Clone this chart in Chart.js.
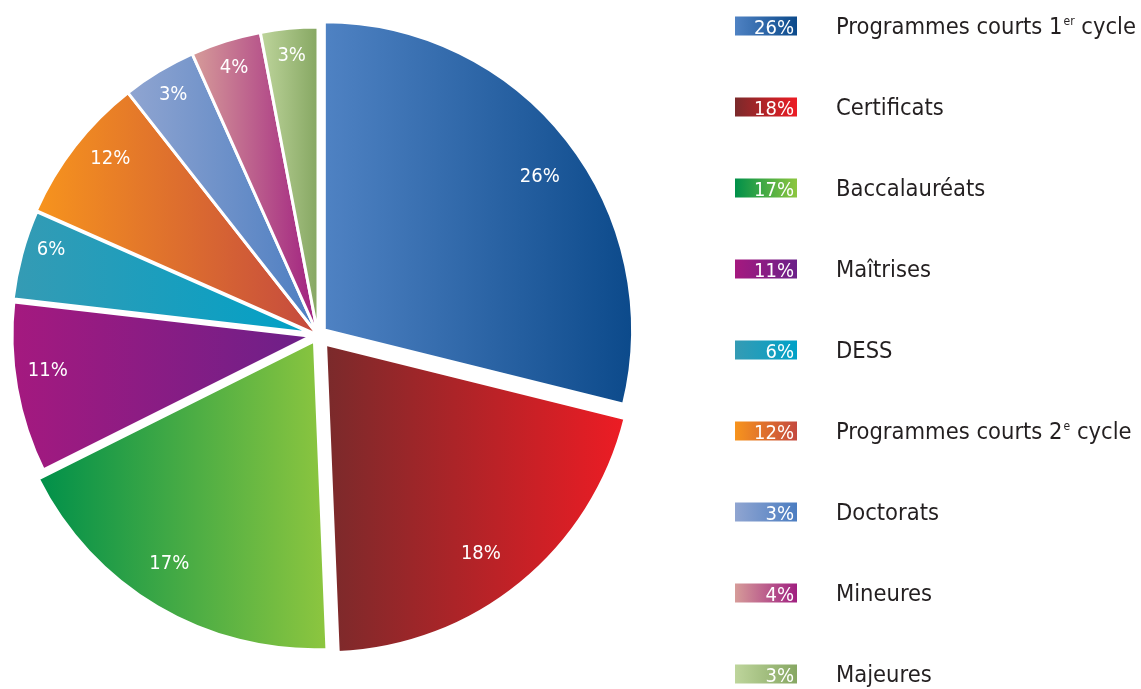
<!DOCTYPE html>
<html>
<head>
<meta charset="utf-8">
<script src="https://cdn.jsdelivr.net/npm/chart.js@4"></script>
<style>
  html, body { margin: 0; padding: 0; background: #fff; }
</style>
</head>
<body>
<canvas id="pie-chart" width="1141" height="689"></canvas>
<script>
// Program names, split so the ordinal can be drawn as a superscript.
const programNames = ['Programmes courts 1', 'Certificats', 'Baccalauréats', 'Maîtrises', 'DESS',
  'Programmes courts 2', 'Doctorats', 'Mineures', 'Majeures'];
const nameSup = ['er', '', '', '', '', 'e', '', '', ''];
const nameTail = [' cycle', '', '', '', '', ' cycle', '', '', ''];

// Percentages printed on the slices and in the legend.
const shares = [26, 18, 17, 11, 6, 12, 3, 4, 3];
// Slice sizes as they are actually drawn in the original (share of the circle, %).
const arcSizes = [28.9, 20.5, 18.3, 9.2, 4.8, 7.8, 3.9, 3.7, 3.0];

// Horizontal gradient of each slice: left colour, right colour.
const colorLeft = ['#4f82c3', '#7a2a2b', '#00904a', '#a5197f', '#359bb4', '#f7941d', '#90a5d1', '#d69c99', '#bed59c'];
const colorRight = ['#0c4a8b', '#ed1c24', '#8dc63f', '#6b2089', '#00a1c7', '#c4493f', '#4b7dc1', '#a01f80', '#86a762'];

const FONT = '"Liberation Sans Narrow", "DejaVu Sans Condensed", "Roboto", sans-serif';

function horizontalGradient(ctx, x0, x1, i) {
  const g = ctx.createLinearGradient(x0, 0, x1, 0);
  g.addColorStop(0, colorLeft[i]);
  g.addColorStop(1, colorRight[i]);
  return g;
}

// x extent of an arc element, so the gradient spans the slice itself.
function arcXRange(arc) {
  const { x, startAngle, endAngle, outerRadius: r } = arc;
  const xs = [x, x + r * Math.cos(startAngle), x + r * Math.cos(endAngle)];
  for (let k = -2; k <= 2; k++) {
    for (const a of [0, Math.PI]) {
      const t = a + k * 2 * Math.PI;
      if (t > startAngle && t < endAngle) xs.push(x + r * Math.cos(t));
    }
  }
  return [Math.min(...xs), Math.max(...xs)];
}

const gradientPlugin = {
  id: 'sliceGradients',
  beforeDatasetsDraw(chart) {
    const { ctx } = chart;
    chart.getDatasetMeta(0).data.forEach((arc, i) => {
      const [x0, x1] = arcXRange(arc);
      arc.options = Object.assign({}, arc.options, { backgroundColor: horizontalGradient(ctx, x0, x1, i) });
    });
  },
};

const sliceLabelPlugin = {
  id: 'sliceLabels',
  afterDatasetsDraw(chart) {
    const { ctx } = chart;
    ctx.save();
    ctx.font = '20px ' + FONT;
    ctx.fillStyle = '#ffffff';
    ctx.textAlign = 'center';
    ctx.textBaseline = 'middle';
    chart.getDatasetMeta(0).data.forEach((arc, i) => {
      // wider slices carry their label a little further round, thin ones a little further out
      const wide = arc.circumference > 0.26;
      const shift = wide ? 2.5 * Math.PI / 180 : 0;
      const mid = (arc.startAngle + arc.endAngle) / 2 + shift;
      const rr = arc.outerRadius * (arc.circumference > 0.35 ? 0.885 : 0.91);
      ctx.fillText(shares[i] + '%', arc.x + Math.cos(mid) * rr, arc.y + Math.sin(mid) * rr);
    });
    ctx.restore();
  },
};

const legendPlugin = {
  id: 'boxLegend',
  afterDraw(chart) {
    const { ctx } = chart;
    const boxX = 735, boxW = 62, boxH = 19, firstY = 26, step = 81, textX = 836;
    ctx.save();
    programNames.forEach((name, i) => {
      const cy = firstY + i * step;
      ctx.fillStyle = horizontalGradient(ctx, boxX, boxX + boxW, i);
      ctx.fillRect(boxX, cy - boxH / 2, boxW, boxH);

      ctx.font = '20px ' + FONT;
      ctx.fillStyle = '#ffffff';
      ctx.textAlign = 'right';
      ctx.textBaseline = 'alphabetic';
      ctx.fillText(shares[i] + '%', boxX + boxW - 3, cy + 8);

      ctx.textAlign = 'left';
      ctx.fillStyle = '#231f20';
      ctx.font = '23.5px ' + FONT;
      ctx.fillText(name, textX, cy + 8);
      let x = textX + ctx.measureText(name).width;
      if (nameSup[i]) {
        ctx.font = '12px ' + FONT;
        ctx.fillText(nameSup[i], x + 1, cy - 1);
        x += ctx.measureText(nameSup[i]).width + 1;
      }
      if (nameTail[i]) {
        ctx.font = '23.5px ' + FONT;
        ctx.fillText(nameTail[i], x, cy + 8);
      }
    });
    ctx.restore();
  },
};

new Chart(document.getElementById('pie-chart'), {
  type: 'pie',
  data: {
    labels: programNames.map((n, i) => n + nameSup[i] + nameTail[i]),
    datasets: [{
      data: arcSizes,
      backgroundColor: colorLeft,
      borderColor: '#ffffff',
      borderWidth: [3, 3, 3, 7, 5, 3, 3, 3, 3],
      // Chart.js v4 moves an arc by about a quarter of its offset
      offset: [32, 48, 28, 0, 0, 0, 0, 0, 0],
      hoverOffset: 0,
    }],
  },
  options: {
    responsive: false,
    animation: false,
    events: [],
    radius: 308,
    layout: { padding: { left: 0, top: 0, right: 505, bottom: 19 } },
    plugins: {
      legend: { display: false },
      tooltip: { enabled: false },
    },
  },
  plugins: [gradientPlugin, sliceLabelPlugin, legendPlugin],
});
</script>
</body>
</html>
